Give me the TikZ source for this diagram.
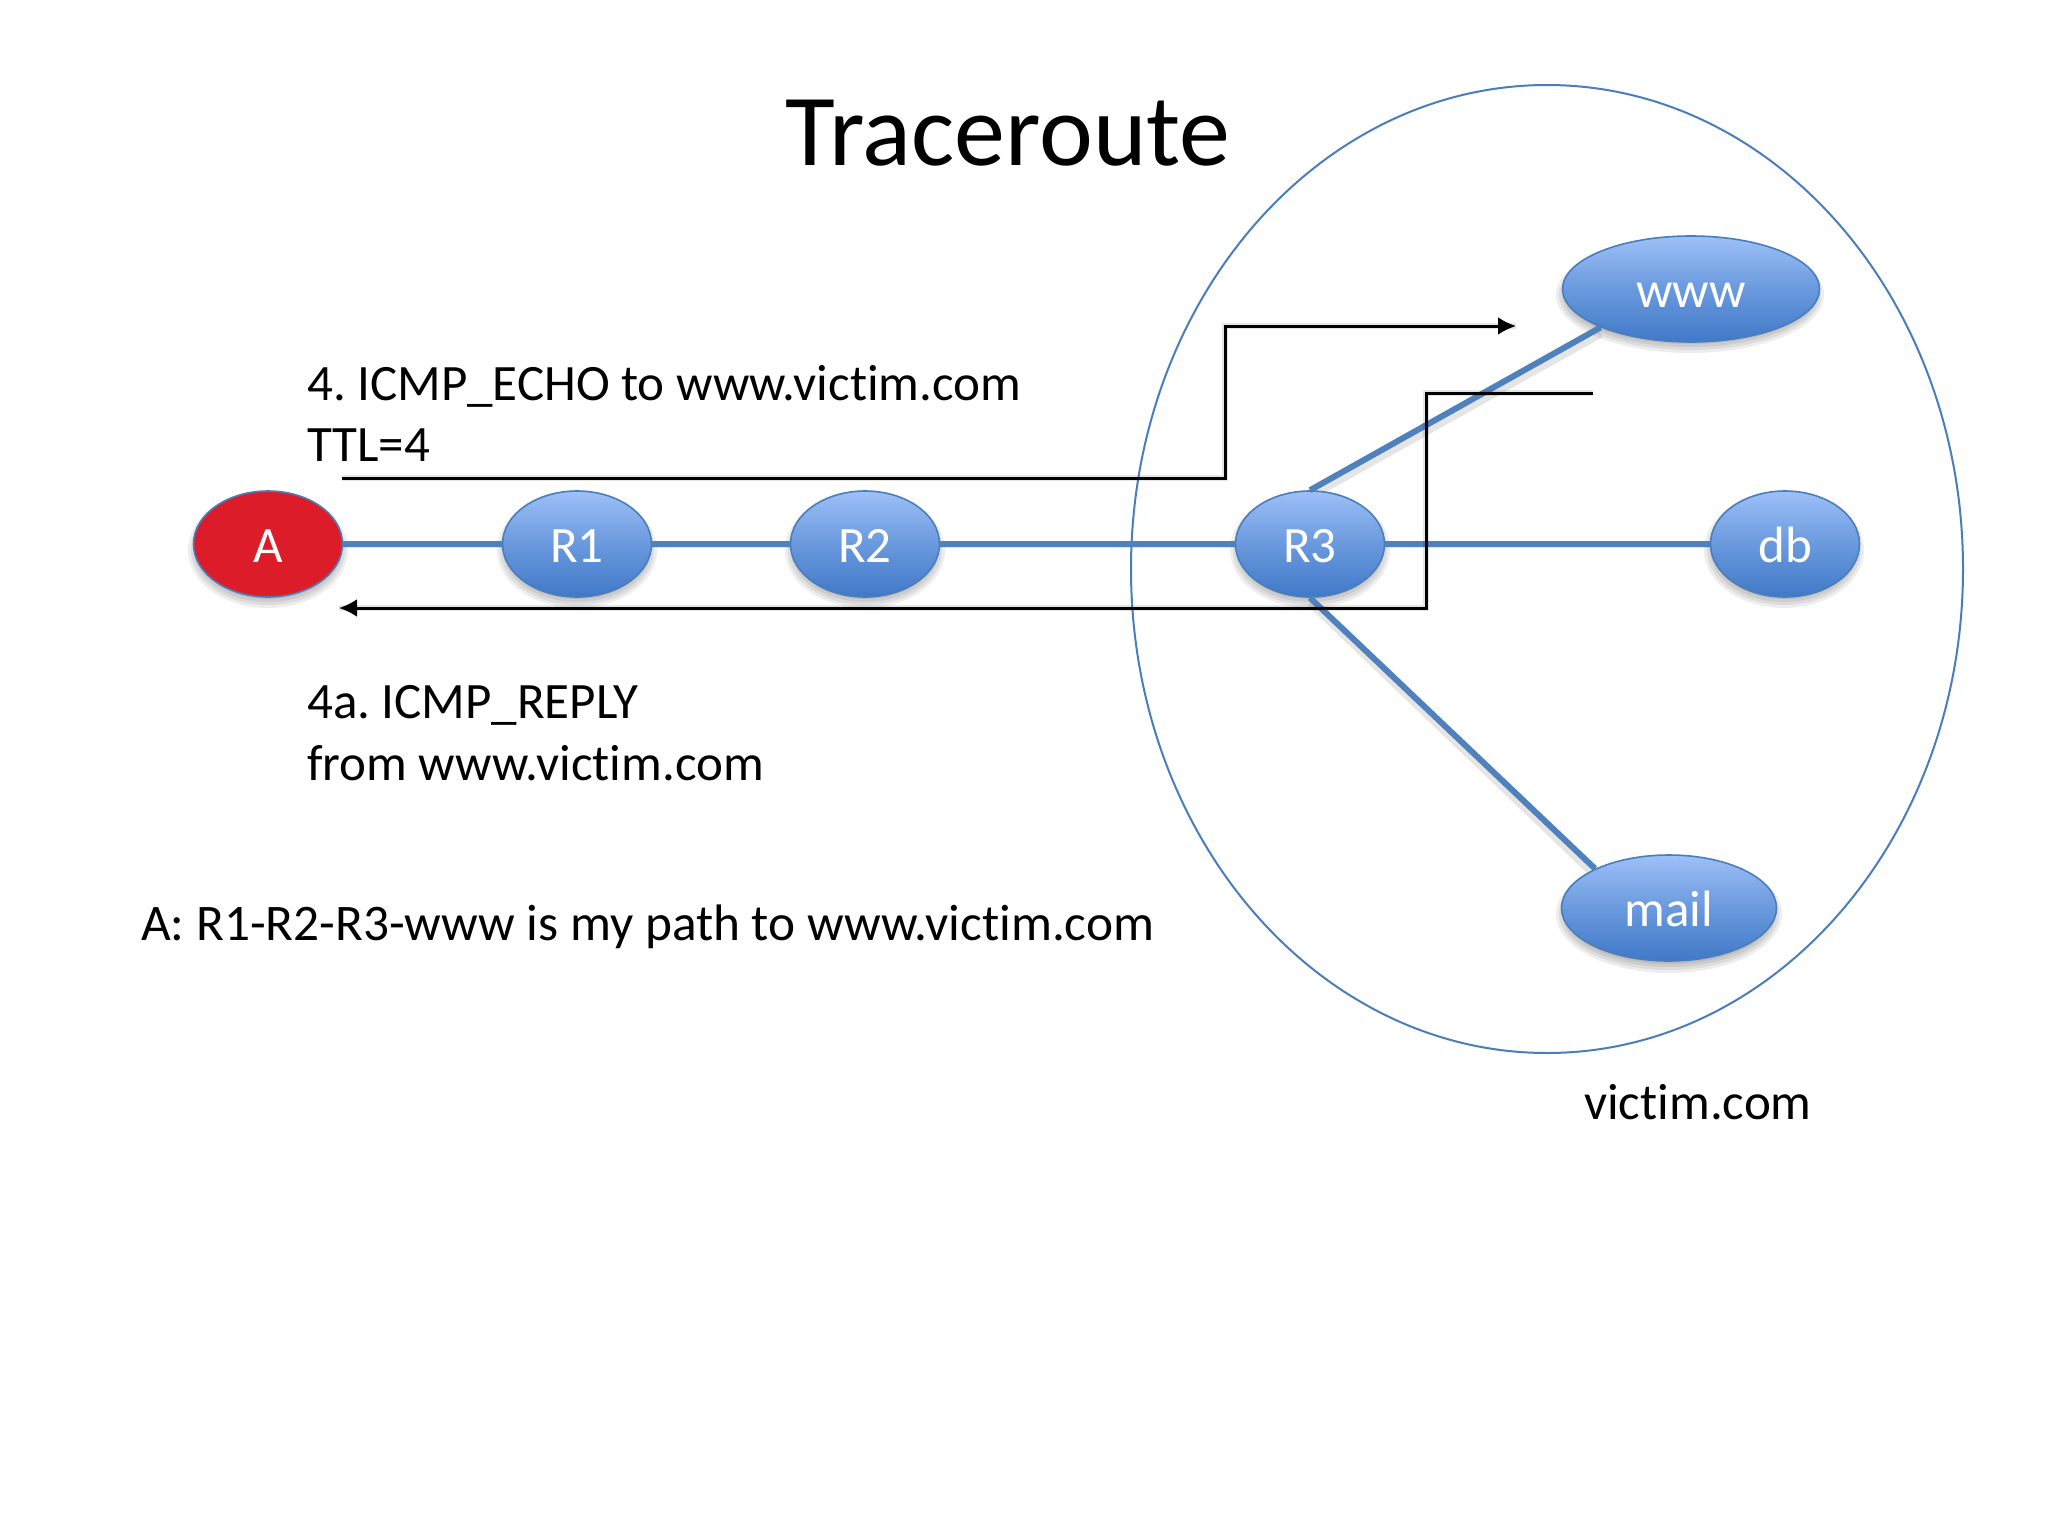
\documentclass[tikz,border=0pt]{standalone}
\usepackage{fontspec}
\setmainfont[Ligatures=NoCommon]{Carlito}
\usetikzlibrary{shapes.geometric,arrows.meta}
\frenchspacing
\definecolor{linkblue}{HTML}{4F81BD}
\definecolor{edgeblue}{HTML}{4A7EBB}
\definecolor{topblue}{HTML}{9DC0F7}
\definecolor{botblue}{HTML}{4079C8}
\definecolor{hostred}{HTML}{DD1C2A}
\newcommand{\softshade}[4]{%
  \foreach \g in {9,6,3,0}{%
    \fill[black,opacity=0.07] (#1,#2+6) ellipse[x radius=#3+\g-4,y radius=#4+\g-4];}}
\tikzset{
  host/.style={ellipse,draw=edgeblue,line width=1.6pt,inner sep=0pt,minimum height=106pt},
  bluehost/.style={host,top color=topblue,bottom color=botblue,middle color=topblue!45!botblue},
  redhost/.style={host,fill=hostred},
  hostname/.style={anchor=base,inner sep=0pt,text=white,font=\fontsize{51}{60}\selectfont},
  link/.style={draw=linkblue,line width=6pt},
  linkshade/.style={draw=black,opacity=0.10,line width=7pt},
  flow/.style={draw=black,line width=3pt},
  flowshade/.style={draw=black,opacity=0.10,line width=6pt},
  flowtip/.style={-{Latex[length=18pt,width=18pt]}},
  label/.style={anchor=base west,inner sep=0pt,font=\fontsize{51}{61}\selectfont,text=black},
}
\begin{document}
\begin{tikzpicture}[x=1pt,y=-1pt]
\useasboundingbox[fill=white] (0,0) rectangle (2048,1536);
% enclosing domain
\node[ellipse,draw=edgeblue,line width=2pt,minimum width=832pt,minimum height=968pt,inner sep=0pt] (domain) at (1547,569) {};
% coordinates for the free ends
\coordinate (echoS) at (342,478);
\coordinate (echoA) at (1225,478);
\coordinate (echoB) at (1225,326);
\coordinate (echoE) at (1516,326);
\coordinate (replyS) at (1593,393);
\coordinate (replyA) at (1426,393);
\coordinate (replyB) at (1426,608);
\coordinate (replyE) at (339,608);
% node shadows
\softshade{268}{544}{75}{53}
\softshade{577}{544}{75}{53}
\softshade{865}{544}{75}{53}
\softshade{1310}{544}{75}{53}
\softshade{1784}{544}{75}{53}
\softshade{1690}{289}{129}{53}
\softshade{1669}{908}{108}{54}
% coordinates of the host centres
\coordinate (cA) at (268,544);
\coordinate (cR1) at (577,544);
\coordinate (cR2) at (865,544);
\coordinate (cR3) at (1310,544);
\coordinate (cdb) at (1785,544);
\coordinate (cwww) at (1691,289);
\coordinate (cmail) at (1669,908);
% connector shadows
\begin{scope}[shift={(0,6)}]
\draw[linkshade] (cA) -- (cdb);
\draw[linkshade] (1310,491) -- (1601,328) (1310,597) -- (1593,868);
\end{scope}
% nodes
\node[redhost,minimum width=149pt] (A) at (cA) {};
\node[bluehost,minimum width=149pt] (R1) at (cR1) {};
\node[bluehost,minimum width=149pt] (R2) at (cR2) {};
\node[bluehost,minimum width=149pt] (R3) at (cR3) {};
\node[bluehost,minimum width=149pt] (db) at (cdb) {};
\node[bluehost,minimum width=257pt] (www) at (cwww) {};
\node[bluehost,minimum width=215pt] (mail) at (cmail) {};
% connectors
\draw[link] (A.east) -- (R1.west);
\draw[link] (R1.east) -- (R2.west);
\draw[link] (R2.east) -- (R3.west);
\draw[link] (R3.east) -- (db.west);
\draw[link] (R3.north) -- (www.203);
\draw[link] (R3.south) -- (mail.152);
% host names
\node[hostname] (tA) at ([yshift=-18pt]A.center) {A};
\node[hostname] (tR1) at ([yshift=-18pt]R1.center) {R1};
\node[hostname] (tR2) at ([yshift=-18pt]R2.center) {R2};
\node[hostname] (tR3) at ([yshift=-18pt]R3.center) {R3};
\node[hostname] (tdb) at ([yshift=-18pt]db.center) {db};
\node[hostname] (twww) at ([yshift=-18pt]www.center) {www};
\node[hostname] (tmail) at ([yshift=-18pt]mail.center) {mail};
% flow shadows
\begin{scope}[shift={(0,7)}]
\draw[flowshade] (echoS) -- (echoA) -- (echoB) -- (echoE);
\draw[flowshade] (replyS) -- (replyA) -- (replyB) -- (replyE);
\end{scope}
% flows
\draw[flow,flowtip] (echoS) -- (echoA) -- (echoB) -- (echoE);
\draw[flow,flowtip] (replyS) -- (replyA) -- (replyB) -- (replyE);
% texts
\node[anchor=base,inner sep=0pt,font=\fontsize{102}{120}\selectfont] (title) at (1008,165) {Traceroute};
\node[label] (l1) at (307,400) {4. ICMP\_ECHO to www.victim.com};
\node[label] (l2) at (307,461) {TTL=4};
\node[label] (l3) at (307,718) {4a. ICMP\_REPLY};
\node[label] (l4) at (307,780) {from www.victim.com};
\node[label,font=\fontsize{51.3}{61}\selectfont] (l5) at (141,940) {A: R1-R2-R3-www is my path to www.victim.com};
\node[label] (l6) at (1584,1119) {victim.com};
\end{tikzpicture}
\end{document}
